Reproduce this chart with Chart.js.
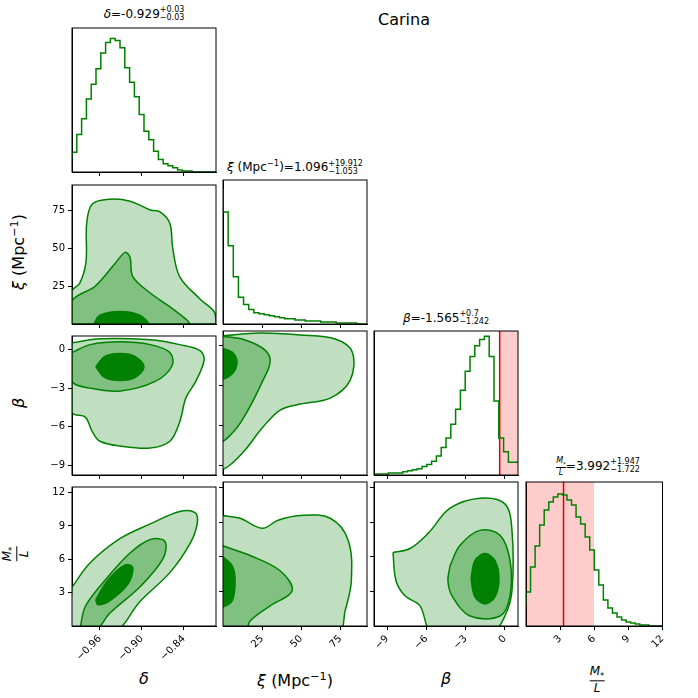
<!DOCTYPE html>
<html><head><meta charset="utf-8">
<script src="https://cdn.jsdelivr.net/npm/chart.js@4"></script>
<style>
body{margin:0;width:698px;height:698px;background:#fff;position:relative;font-family:"DejaVu Sans",sans-serif;overflow:hidden}
.t{position:absolute;white-space:nowrap;color:#000}
.ttl{font-size:12px;transform:translateX(-50%)}
.lab{font-size:16px;transform:translate(-50%,-50%)}
.rot{transform:translate(-50%,-50%) rotate(-90deg)}
.fr{display:inline-flex;flex-direction:column;align-items:center;vertical-align:middle;font-style:italic}
.fr span:first-child{border-bottom:1px solid #000}
sup,sub{font-size:0.7em}
</style></head><body>
<div class="t" style="left:404px;top:10px;font-size:16px;transform:translateX(-50%)">Carina</div>
<div class="t ttl" style="left:144px;top:6px"><i>δ</i>=-0.929<span style="display:inline-flex;flex-direction:column;font-size:8px;line-height:8px;vertical-align:middle"><span>+0.03</span><span>−0.03</span></span></div>
<div class="t ttl" style="left:295px;top:158px"><i>ξ</i> (Mpc<sup>−1</sup>)=1.096<span style="display:inline-flex;flex-direction:column;font-size:8px;line-height:8px;vertical-align:middle"><span>+19.912</span><span>−1.053</span></span></div>
<div class="t ttl" style="left:446px;top:310px"><i>β</i>=-1.565<span style="display:inline-flex;flex-direction:column;font-size:8px;line-height:8px;vertical-align:middle"><span>+0.7</span><span>−1.242</span></span></div>
<div class="t ttl" style="left:598px;top:456px"><span class="fr" style="font-size:8px"><span>M<sub>*</sub></span><span>L</span></span>=3.992<span style="display:inline-flex;flex-direction:column;font-size:8px;line-height:8px;vertical-align:middle"><span>+1.947</span><span>−1.722</span></span></div>
<div class="t lab" style="left:144px;top:678px"><i>δ</i></div>
<div class="t lab" style="left:295px;top:680px"><i>ξ</i> (Mpc<sup>−1</sup>)</div>
<div class="t lab" style="left:446px;top:678px"><i>β</i></div>
<div class="t lab" style="left:597px;top:680px"><span class="fr" style="font-size:12px"><span>M<sub>*</sub></span><span>L</span></span></div>
<div class="t lab rot" style="left:18px;top:252px"><i>ξ</i> (Mpc<sup>−1</sup>)</div>
<div class="t lab rot" style="left:18px;top:403px"><i>β</i></div>
<div class="t lab rot" style="left:16px;top:554px"><span class="fr" style="font-size:12px"><span>M<sub>*</sub></span><span>L</span></span></div>
<script>
// axis ranges and ticks
const deltaRange = [-1.0, -0.794], xiRange = [0, 92], betaRange = [-10, 1], mlRange = [0, 12];
const xiYRange = [0, 92], betaYRange = [-9.75, 1.05], mlYRange = [0, 12.5];
const deltaTicks = [-0.96, -0.90, -0.84], xiTicks = [25, 50, 75], betaTicks = [-9, -6, -3, 0], mlTicks = [3, 6, 9, 12];

// histograms (counts per bin)
const deltaHist = [13,19,36,51,70,84,99,114,124,128,126,119,100,86,72,55,39,31,20,12,8,6,4,2,1,1,0,0,0,0];
const xiHist = [132,109,76,46,26,19,14,11,10,9,8,7,6,5,5,4,4,3,3,3,2,2,2,1,1,1,1,0];
const betaHist = [1,1,1,1,2,2,2,3,4,5,6,8,10,13,18,26,35,48,62,80,98,112,122,128,131,112,70,35,22,12];
const mlHist = [21,34,59,80,101,116,124,129,132,131,126,121,109,102,89,76,56,41,26,18,13,9,6,4,3,2,1,1,0,0];
const betaShade = [-0.4, 1], betaLine = -0.4;
const mlShade = [0, 6.0], mlLine = 3.3;

// contours: [outer, mid, inner] as [x,y] lists
const deltaXi = [
  [[-1.0,0],[-1.0,21.8],[-0.989,26.9],[-0.980,41],[-0.979,66.6],[-0.971,79.4],[-0.946,82.6],[-0.917,81.3],[-0.888,75.5],[-0.874,74.2],[-0.860,66.6],[-0.856,50.6],[-0.846,31.4],[-0.817,16.6],[-0.796,7.7],[-0.794,0]],
  [[-1.0,0],[-1.0,15.4],[-0.967,25],[-0.939,39.7],[-0.924,47.4],[-0.917,44.2],[-0.913,31.4],[-0.888,20.5],[-0.853,9],[-0.834,0]],
  [[-0.970,-1],[-0.960,5.8],[-0.931,8.3],[-0.903,5.8],[-0.891,-1]]
];
const deltaBeta = [
  [[-1.0,0.53],[-0.960,0.83],[-0.888,0.75],[-0.846,0.38],[-0.817,-0.08],[-0.811,-0.83],[-0.823,-2.48],[-0.837,-3.75],[-0.846,-5.63],[-0.860,-7.13],[-0.888,-7.65],[-0.931,-7.5],[-0.960,-7.13],[-0.971,-6.38],[-0.981,-5.25],[-1.0,-4.88]],
  [[-1.0,-0.23],[-0.974,0.38],[-0.931,0.6],[-0.888,0.38],[-0.860,-0.23],[-0.857,-1.28],[-0.881,-2.48],[-0.931,-3.23],[-0.974,-3.0],[-1.0,-2.48]],
  [[-0.966,-1.35],[-0.953,-0.53],[-0.931,-0.3],[-0.910,-0.53],[-0.897,-1.35],[-0.910,-2.18],[-0.931,-2.4],[-0.953,-2.18]]
];
const deltaMl = [
  [[-1.0,3.5],[-0.974,5.68],[-0.931,7.87],[-0.888,9.18],[-0.846,10.3],[-0.824,10.2],[-0.821,9.18],[-0.831,7.43],[-0.860,4.8],[-0.903,2.19],[-0.939,-0.5],[-1.0,-0.5]],
  [[-0.989,-0.5],[-0.981,1.75],[-0.953,4.1],[-0.917,6.56],[-0.888,7.78],[-0.867,7.6],[-0.870,6.03],[-0.903,3.5],[-0.946,1.14],[-0.967,-0.5]],
  [[-0.966,2.36],[-0.949,4.1],[-0.924,5.5],[-0.913,5.24],[-0.920,3.76],[-0.946,2.27],[-0.963,1.92]]
];
const xiBeta = [
  [[-1,0.68],[23.7,0.9],[49.3,0.75],[71.7,0.45],[82.6,-0.53],[81.3,-2.63],[68.5,-3.98],[49.3,-4.43],[36.5,-4.88],[25,-6.23],[14.1,-7.88],[4.5,-9.0],[-1,-9.23]],
  [[-1,0.68],[14.1,0.38],[26.9,-0.38],[30.1,-1.28],[25,-2.78],[16,-4.88],[7.7,-6.38],[-1,-7.13]],
  [[-1,-0.23],[5.8,-0.53],[9,-1.28],[5.8,-2.18],[-1,-2.48]]
];
const xiMl = [
  [[-1,9.6],[10.9,9.35],[25,8.48],[35.2,9.18],[49.3,9.6],[68.5,9.35],[80,7.43],[82,3.93],[78,1.31],[73.6,-0.5],[-1,-0.5]],
  [[-1,7.0],[17.3,6.12],[36.5,4.8],[44.2,3.06],[30.1,1.75],[17.3,0.44],[14.1,-0.5],[-1,-0.5]],
  [[-1,6.12],[5.8,5.24],[7.7,3.93],[5.8,2.19],[-1,1.75]]
];
const betaMl = [
  [[-8.55,6.38],[-7.25,6.73],[-5.87,8.04],[-4.19,10.23],[-1.9,11.1],[0.0,10.6],[0.54,8.3],[0.54,3.06],[0.0,0.87],[-0.98,-0.5],[-5.57,-0.5],[-6.49,1.75],[-7.63,2.62],[-8.32,3.93]],
  [[-4.19,5.24],[-3.43,7.0],[-1.9,8.3],[-0.37,7.87],[0.39,5.68],[0.39,2.62],[-0.37,0.87],[-2.67,0.87],[-4.04,2.62],[-4.35,3.93]],
  [[-2.59,4.1],[-2.29,5.68],[-1.52,6.29],[-0.76,5.68],[-0.45,4.1],[-0.76,2.53],[-1.52,1.92],[-2.29,2.53]]
];

const colLeft = [72, 223, 374, 526], rowTop = [28, 180, 331, 482], S = 144;
const GREEN = "#008000", FILLS = ["#c0dfc0", "#80c080", "#008000"];
const fmt = v => (Number.isInteger(v) ? String(v) : v.toFixed(2)).replace("-", "−");

const frame = {id:"frame", afterDraw(c){const a=c.chartArea,x=c.ctx;x.save();x.strokeStyle="#000";x.lineWidth=1;x.strokeRect(a.left,a.top,a.right-a.left,a.bottom-a.top);x.restore();}};

function contourSets(levels){
  return levels.map((pts,i)=>{
    const d = pts.map(p=>({x:p[0],y:p[1]}));
    d.push(d[0]);
    return {data:d, showLine:true, fill:"shape", backgroundColor:FILLS[i], borderColor:GREEN, borderWidth:1.5, tension:0.35, pointRadius:0, order:3-i};
  });
}

function histSets(counts, range){
  const w = (range[1]-range[0])/counts.length;
  const d = counts.map((c,i)=>({x:range[0]+i*w, y:c}));
  d.push({x:range[1], y:counts[counts.length-1]});
  return [{data:d, showLine:true, stepped:"after", borderColor:GREEN, borderWidth:1.5, pointRadius:0, fill:false, order:0}];
}

function redSets(shade, line, top){
  return [
    {data:[{x:shade[0],y:top},{x:shade[1],y:top}], showLine:true, fill:"origin", backgroundColor:"rgba(255,0,0,0.2)", borderWidth:0, pointRadius:0, order:2},
    {data:[{x:line,y:0},{x:line,y:top}], showLine:true, borderColor:"#e00000", borderWidth:1.5, pointRadius:0, order:1}
  ];
}

function panel(col, row, datasets, xr, yr, xt, yt, showX, showY){
  const L=50, B=50, R=4, T=4;
  const div = document.createElement("div");
  div.style.cssText = `position:absolute;left:${colLeft[col]-L}px;top:${rowTop[row]-T}px;width:${S+L+R}px;height:${S+T+B}px`;
  const cv = document.createElement("canvas");
  div.appendChild(cv);
  document.body.appendChild(div);
  const tickFont = {family:"DejaVu Sans", size:10};
  new Chart(cv,{
    type:"scatter",
    data:{datasets},
    options:{animation:false, responsive:true, maintainAspectRatio:false,
      layout:{padding:{top:T,right:R,left:0,bottom:0}},
      plugins:{legend:{display:false}, tooltip:{enabled:false}},
      scales:{
        x:{type:"linear", min:xr[0], max:xr[1],
          afterBuildTicks:s=>{s.ticks=xt.map(v=>({value:v}))},
          afterFit:s=>{s.height=B},
          grid:{display:true, drawOnChartArea:false, tickLength:4, color:"#000"},
          border:{display:true, color:"#000"},
          ticks:{display:showX, color:"#000", font:tickFont, minRotation:45, maxRotation:45, callback:v=>fmt(v)}},
        y:{type:"linear", min:yr[0], max:yr[1],
          afterBuildTicks:s=>{s.ticks=yt.map(v=>({value:v}))},
          afterFit:s=>{s.width=L},
          grid:{display:true, drawOnChartArea:false, tickLength:4, color:"#000"},
          border:{display:true, color:"#000"},
          ticks:{display:showY, color:"#000", font:tickFont, callback:v=>fmt(v)}}
      }},
    plugins:[frame]
  });
}

// diagonal histograms
panel(0,0,histSets(deltaHist,deltaRange),deltaRange,[0,138],deltaTicks,[],false,false);
panel(1,1,histSets(xiHist,xiRange),xiRange,[0,140],xiTicks,[],false,false);
panel(2,2,histSets(betaHist,betaRange).concat(redSets(betaShade,betaLine,136)),betaRange,[0,136],betaTicks,[],false,false);
panel(3,3,histSets(mlHist,mlRange).concat(redSets(mlShade,mlLine,144)),mlRange,[0,144],mlTicks,[],true,false);
// contour panels
panel(0,1,contourSets(deltaXi),deltaRange,xiYRange,deltaTicks,xiTicks,false,true);
panel(0,2,contourSets(deltaBeta),deltaRange,betaYRange,deltaTicks,betaTicks,false,true);
panel(0,3,contourSets(deltaMl),deltaRange,mlYRange,deltaTicks,mlTicks,true,true);
panel(1,2,contourSets(xiBeta),xiRange,betaYRange,xiTicks,betaTicks,false,false);
panel(1,3,contourSets(xiMl),xiRange,mlYRange,xiTicks,mlTicks,true,false);
panel(2,3,contourSets(betaMl),betaRange,mlYRange,betaTicks,mlTicks,true,false);
</script>
</body></html>
